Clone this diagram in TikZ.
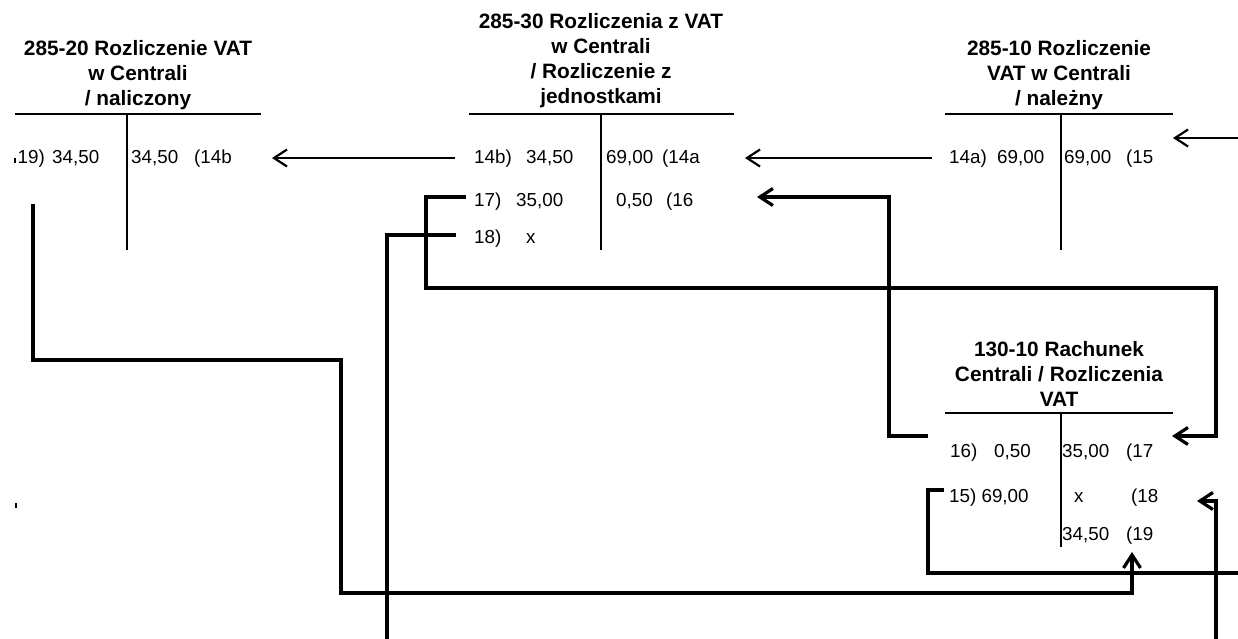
\documentclass[tikz,border=0pt]{standalone}
\usepackage{fontspec}
\setmainfont{Liberation Sans}
\usetikzlibrary{arrows.meta}
\begin{document}
\begin{tikzpicture}[x=1pt,y=-1pt,
  ttl/.style={font=\fontsize{20.8}{25}\selectfont\bfseries, anchor=base, inner sep=0pt},
  entry/.style={font=\fontsize{18.8}{22}\selectfont, anchor=base west, inner sep=0pt},
  tline/.style={line width=2pt},
  conn/.style={line width=3.2pt},
  thinconn/.style={line width=2.2pt},
  arr/.style={-{Straight Barb[length=13pt,width=17pt]}},
]
\useasboundingbox (0,0) rectangle (1238,638);

% ---------- 285-20 ----------
\node[ttl] (t20a) at (138,55) {285-20 Rozliczenie VAT};
\node[ttl] (t20b) at (138,80) {w Centrali};
\node[ttl] (t20c) at (138,105) {/ naliczony};
\draw[tline] (15,114) -- (261,114);
\draw[tline] (127,114) -- (127,250);
\fill (14.3,158) rectangle (16,163);
\node[entry] (e20a) at (17.5,163) {19)};
\node[entry] (e20b) at (52,163) {34,50};
\node[entry] (e20c) at (131,163) {34,50};
\node[entry] (e20d) at (194,163) {(14b};

% ---------- 285-30 ----------
\node[ttl] (t30a) at (601,28) {285-30 Rozliczenia z VAT};
\node[ttl] (t30b) at (601,53) {w Centrali};
\node[ttl] (t30c) at (601,78) {/ Rozliczenie z};
\node[ttl] (t30d) at (601,103) {jednostkami};
\draw[tline] (469,114) -- (734,114);
\draw[tline] (601,114) -- (601,250);
\node[entry] (e30a) at (474,163) {14b)};
\node[entry] (e30b) at (526,163) {34,50};
\node[entry] (e30c) at (606,163) {69,00};
\node[entry] (e30d) at (662,163) {(14a};
\node[entry] (e30e) at (474,206) {17)};
\node[entry] (e30f) at (516,206) {35,00};
\node[entry] (e30g) at (616,206) {0,50};
\node[entry] (e30h) at (666,206) {(16};
\node[entry] (e30i) at (474,243) {18)};
\node[entry] (e30j) at (526,243) {x};

% ---------- 285-10 ----------
\node[ttl] (t10a) at (1059,55) {285-10 Rozliczenie};
\node[ttl] (t10b) at (1059,80) {VAT w Centrali};
\node[ttl] (t10c) at (1059,105) {/ należny};
\draw[tline] (945,114) -- (1173,114);
\draw[tline] (1061,114) -- (1061,250);
\node[entry] (e10a) at (949,163) {14a)};
\node[entry] (e10b) at (997,163) {69,00};
\node[entry] (e10c) at (1064,163) {69,00};
\node[entry] (e10d) at (1126,163) {(15};

% ---------- 130-10 ----------
\node[ttl] (t13a) at (1059,356) {130-10 Rachunek};
\node[ttl] (t13b) at (1059,381) {Centrali / Rozliczenia};
\node[ttl] (t13c) at (1059,406) {VAT};
\draw[tline] (945,413) -- (1173,413);
\draw[tline] (1061,413) -- (1061,547);
\node[entry] (e13a) at (950,457) {16)};
\node[entry] (e13b) at (994,457) {0,50};
\node[entry] (e13c) at (1062,457) {35,00};
\node[entry] (e13d) at (1126,457) {(17};
\node[entry] (e13e) at (949,502) {15) 69,00};
\node[entry] (e13g) at (1074,502) {x};
\node[entry] (e13h) at (1131,502) {(18};
\node[entry] (e13i) at (1062,540) {34,50};
\node[entry] (e13j) at (1126,540) {(19};

% ---------- connector end points ----------
\coordinate (c14bS) at (455,158);
\coordinate (c14bE) at (272,158);
\coordinate (c14aS) at (932,158);
\coordinate (c14aE) at (745,158);
\coordinate (c15S) at (944,490);
\coordinate (c15off) at (1250,573);
\coordinate (c15inS) at (1250,138);
\coordinate (c15E) at (1173,138);
\coordinate (c16S) at (928,436);
\coordinate (c16E) at (757,197);
\coordinate (c17S) at (466,197);
\coordinate (c17E) at (1172,436);
\coordinate (c18S) at (456,235);
\coordinate (c18E) at (1197,501);
\coordinate (c19S) at (33,204);
\coordinate (c19E) at (1132,552);

% ---------- connectors ----------
\draw[thinconn,arr] (c14bS) -- (c14bE);
\draw[thinconn,arr] (c14aS) -- (c14aE);
\draw[conn] (c15S) -- (928,490) -- (928,573) -- (c15off);
\draw[thinconn,arr] (c15inS) -- (c15E);
\draw[conn,arr] (c16S) -- (889,436) -- (889,197) -- (c16E);
\draw[conn,arr] (c17S) -- (426,197) -- (426,288) -- (1216,288) -- (1216,436) -- (c17E);
\draw[conn,arr] (c18S) -- (387,235) -- (387,660) -- (1216,660) -- (1216,501) -- (c18E);
\draw[conn,arr] (c19S) -- (33,360) -- (341,360) -- (341,593) -- (1132,593) -- (c19E);

\fill (15,503) rectangle (17,508);
\end{tikzpicture}
\end{document}
